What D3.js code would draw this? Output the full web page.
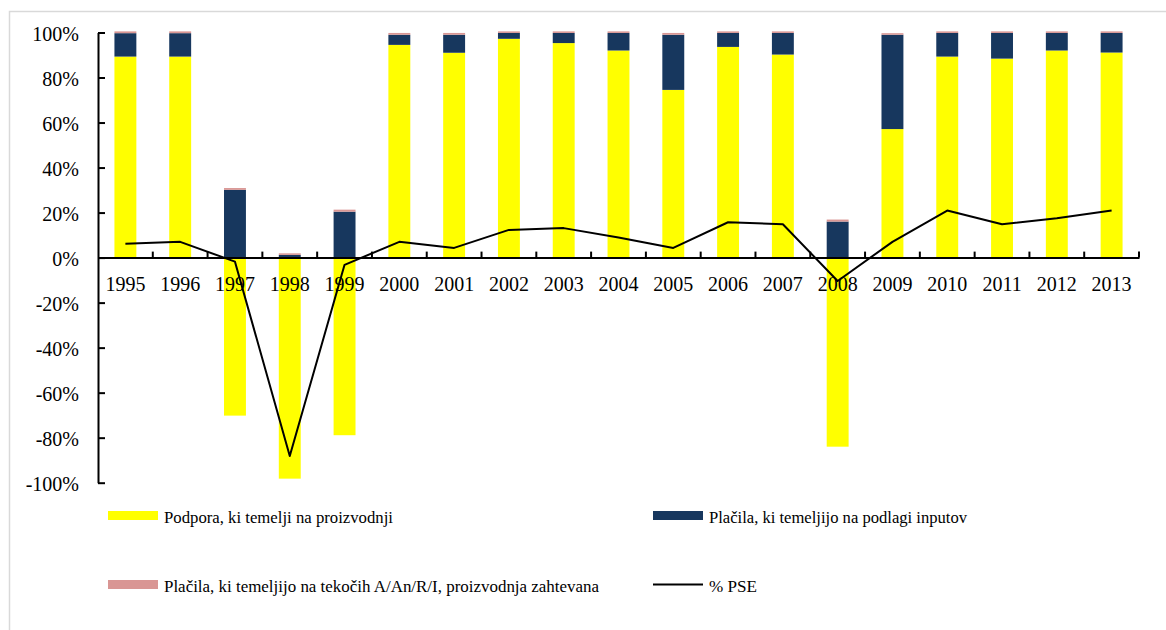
<!DOCTYPE html>
<html>
<head>
<meta charset="utf-8">
<script src="https://cdn.jsdelivr.net/npm/d3@7"></script>
<style>
  html, body { margin: 0; padding: 0; background: #fff; }
  svg { display: block; }
</style>
</head>
<body>
<svg id="chart" width="1166" height="630"></svg>
<script>
const years = ["1995","1996","1997","1998","1999","2000","2001","2002","2003","2004","2005","2006","2007","2008","2009","2010","2011","2012","2013"];
const podpora = [89.3, 89.3, -70.2, -98.2, -78.9, 94.5, 91.0, 97.2, 95.3, 92.0, 74.5, 93.6, 90.2, -84.0, 57.1, 89.3, 88.4, 92.0, 91.1];
const inputi  = [10.4, 10.4, 30.1, 1.2, 20.4, 4.5, 8.0, 2.6, 4.5, 7.8, 24.5, 6.2, 9.6, 16.0, 41.9, 10.5, 11.4, 7.8, 8.7];
const tekoci  = [0.8, 0.8, 0.8, 0.7, 0.9, 0.8, 0.8, 0.7, 0.7, 0.7, 0.8, 0.7, 0.7, 0.9, 0.7, 0.7, 0.7, 0.7, 0.7];
const pse     = [6.1, 7.0, -1.8, -88.1, -3.2, 7.0, 4.3, 12.3, 13.1, 8.9, 4.3, 15.7, 14.8, -10.4, 7.0, 20.9, 14.8, 17.5, 20.9];
const yTicks  = [-100, -80, -60, -40, -20, 0, 20, 40, 60, 80, 100];
const seriesNames = ["Podpora, ki temelji na proizvodnji", "Plačila, ki temeljijo na podlagi inputov", "Plačila, ki temeljijo na tekočih A/An/R/I, proizvodnja zahtevana", "% PSE"];
const colors = ["#FFFF00", "#17375E", "#D99694", "#000000"];

const FONT = "Liberation Serif";
const svg = d3.select("#chart");

// outer frame (extends beyond the picture on right/bottom)
svg.append("rect").attr("x", 9.5).attr("y", 11.5).attr("width", 1200).attr("height", 700)
  .attr("fill", "none").attr("stroke", "#D9D9D9").attr("stroke-width", 1.5);

const x = d3.scaleBand().domain(years).range([98, 1139]).paddingInner(0.6).paddingOuter(0.3);
const y = d3.scaleLinear().domain([-100, 100]).range([482.7, 32.5]);

const table = years.map((yr, i) => ({ year: yr, a: podpora[i], b: inputi[i], c: tekoci[i] }));
const stack = d3.stack().keys(["a", "b", "c"]).offset(d3.stackOffsetDiverging);
const stacked = stack(table);

const gBars = svg.append("g");
stacked.forEach((s, si) => {
  gBars.selectAll(null).data(s).enter().append("rect")
    .attr("x", d => x(d.data.year))
    .attr("width", x.bandwidth())
    .attr("y", d => y(Math.max(d[0], d[1])))
    .attr("height", d => Math.abs(y(d[0]) - y(d[1])))
    .attr("fill", colors[si]);
});

// y axis
const yAxis = d3.axisLeft(y).tickValues(yTicks).tickFormat(d => d + "%")
  .tickSizeInner(-7).tickSizeOuter(0).tickPadding(19);
const gy = svg.append("g").attr("transform", "translate(98,0)").call(yAxis);
gy.select(".domain").attr("stroke", "#000").attr("stroke-width", 2);
gy.selectAll(".tick line").attr("stroke", "#000").attr("stroke-width", 2);
gy.selectAll(".tick text").style("font-size", "20px").style("font-family", FONT).attr("fill", "#000").attr("dy", "0.38em");

// x axis at 0
const x0 = y(0);
const xAxis = d3.axisBottom(x).tickSize(0).tickPadding(19);
const gx = svg.append("g").attr("transform", `translate(0,${x0})`).call(xAxis);
gx.select(".domain").attr("stroke", "#000").attr("stroke-width", 2);
gx.selectAll(".tick text").style("font-size", "20px").style("font-family", FONT).attr("fill", "#000");
// category boundary ticks (pointing up)
const step = x.step();
const bounds = years.map(yr => x(yr) + x.bandwidth() + step * 0.3);
gx.selectAll(null).data(bounds).enter().append("line")
  .attr("x1", d => d).attr("x2", d => d).attr("y1", 0).attr("y2", -6)
  .attr("stroke", "#000").attr("stroke-width", 2);

// PSE line
const line = d3.line().x((d, i) => x(years[i]) + x.bandwidth() / 2).y(d => y(d));
svg.append("path").datum(pse).attr("d", line)
  .attr("fill", "none").attr("stroke", "#000").attr("stroke-width", 2).attr("stroke-linejoin", "round");

// legend
const leg = [
  { x: 108, y: 511, type: "rect", i: 0, tw: 229 },
  { x: 653, y: 511, type: "rect", i: 1, tw: 258 },
  { x: 108, y: 580, type: "rect", i: 2, tw: 435 },
  { x: 653, y: 580, type: "line", i: 3, tw: 48 }
];
const gl = svg.append("g");
leg.forEach(l => {
  if (l.type === "rect") {
    gl.append("rect").attr("x", l.x).attr("y", l.y).attr("width", 50).attr("height", 9).attr("fill", colors[l.i]);
  } else {
    gl.append("line").attr("x1", l.x).attr("x2", l.x + 50).attr("y1", l.y + 4.5).attr("y2", l.y + 4.5)
      .attr("stroke", colors[l.i]).attr("stroke-width", 2);
  }
  gl.append("text").attr("x", l.x + 56).attr("y", l.y + 12)
    .style("font-size", "16px").style("font-family", FONT).attr("fill", "#000")
    .attr("textLength", l.tw).attr("lengthAdjust", "spacingAndGlyphs")
    .text(seriesNames[l.i]);
});
</script>
</body>
</html>
